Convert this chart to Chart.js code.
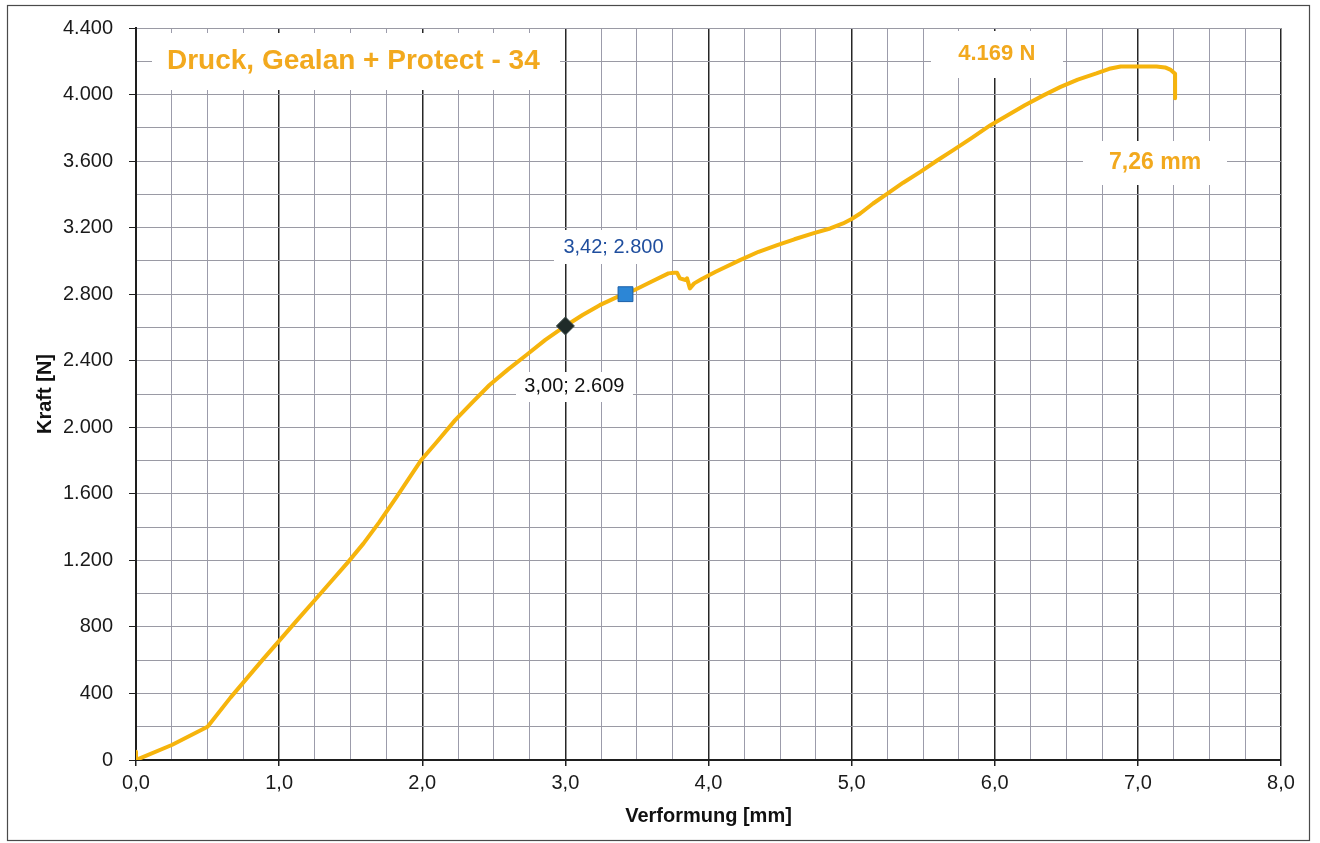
<!DOCTYPE html>
<html>
<head>
<meta charset="utf-8">
<script src="https://cdn.jsdelivr.net/npm/chart.js@4.4.1/dist/chart.umd.min.js"></script>
<style>
  html, body { margin: 0; padding: 0; background: #ffffff; }
  canvas { display: block; }
</style>
</head>
<body>
<canvas id="chart" width="1320" height="843"></canvas>
<script>
// Load–deformation curve of the compression test
const deformationMm = [0, 0, 0.25, 0.50, 0.66, 0.89, 1.00, 1.12, 1.25, 1.36, 1.48, 1.59, 1.70, 1.82, 1.99,
  2.10, 2.23, 2.35, 2.47, 2.60, 2.73, 2.86, 3.00, 3.12, 3.24, 3.36, 3.48, 3.60, 3.72, 3.76,
  3.78, 3.80, 3.84, 3.85, 3.87, 3.90, 3.95, 4.05, 4.22, 4.35, 4.48, 4.60, 4.73, 4.85, 4.94, 5.00,
  5.06, 5.15, 5.25, 5.36, 5.48, 5.60, 5.71, 5.84, 5.97, 6.09, 6.21, 6.34, 6.46, 6.58, 6.71, 6.80,
  6.88, 7.00, 7.13, 7.19, 7.23, 7.26, 7.26];
const forceN = [50, 0, 90, 200, 375, 608, 716, 835, 962, 1070, 1188, 1302, 1430, 1580, 1800,
  1910, 2043, 2150, 2254, 2348, 2436, 2525, 2609, 2675, 2734, 2782, 2824, 2875, 2925, 2929,
  2929, 2895, 2885, 2895, 2835, 2865, 2890, 2935, 3005, 3055, 3095, 3130, 3165, 3195, 3225, 3252,
  3285, 3345, 3405, 3470, 3535, 3605, 3666, 3740, 3816, 3876, 3936, 3995, 4046, 4090, 4127, 4155,
  4169, 4169, 4169, 4163, 4148, 4125, 3977];

// Marked points
const refDeformation = [3.00];
const refForce = [2609];
const checkDeformation = [3.42];
const checkForce = [2800];
const peakForce = 4169;
const maxDeformation = 7.26;

// Axis tick labels
const xTickLabels = ['0,0', '1,0', '2,0', '3,0', '4,0', '5,0', '6,0', '7,0', '8,0'];
const yTickLabels = ['0', '400', '800', '1.200', '1.600', '2.000', '2.400', '2.800', '3.200', '3.600', '4.000', '4.400'];

const chartTitle = 'Druck, Gealan + Protect - 34';
const FONT = '"Liberation Sans", Arial, sans-serif';
const ORANGE_TEXT = '#F2A91E';
const ORANGE_LINE = '#F6B40C';

function deNum(v, d) {
  const s = v.toFixed(d).split('.');
  const i = s[0].replace(/\B(?=(\d{3})+(?!\d))/g, '.');
  return s[1] ? i + ',' + s[1] : i;
}

const curve = deformationMm.map((x, i) => ({ x, y: forceN[i] }));
const refPts = refDeformation.map((x, i) => ({ x, y: refForce[i] }));
const checkPts = checkDeformation.map((x, i) => ({ x, y: checkForce[i] }));

const isInt = v => Math.abs(v - Math.round(v)) < 1e-6;

function labelBox(ctx, text, cx, cy, font, color, w, h) {
  ctx.save();
  ctx.font = font;
  ctx.fillStyle = '#ffffff';
  ctx.fillRect(Math.round(cx - w / 2), Math.round(cy - h / 2), Math.round(w), Math.round(h));
  ctx.fillStyle = color;
  ctx.textAlign = 'center';
  ctx.textBaseline = 'middle';
  ctx.fillText(text, cx, cy);
  ctx.restore();
}

const annotations = {
  id: 'annotations',
  beforeDraw(chart) {
    const ctx = chart.ctx;
    ctx.save();
    ctx.fillStyle = '#ffffff';
    ctx.fillRect(0, 0, chart.width, chart.height);
    ctx.restore();
  },
  beforeDatasetsDraw(chart) {
    const ctx = chart.ctx;
    const xs = chart.scales.x, ys = chart.scales.y;
    const area = chart.chartArea;

    // title box
    ctx.save();
    ctx.font = 'bold 28px ' + FONT;
    ctx.fillStyle = '#ffffff';
    ctx.fillRect(area.left + 16, area.top + 5, 408, 57);
    ctx.fillStyle = ORANGE_TEXT;
    ctx.textAlign = 'left';
    ctx.textBaseline = 'middle';
    ctx.fillText(chartTitle, area.left + 31, area.top + 33);
    ctx.restore();

    // peak force
    labelBox(ctx, deNum(peakForce, 0) + ' N', xs.getPixelForValue(6.0) + 2, ys.getPixelForValue(peakForce) - 12,
      'bold 22px ' + FONT, ORANGE_TEXT, 132, 47);
    // max deformation
    labelBox(ctx, deNum(maxDeformation, 2) + ' mm', xs.getPixelForValue(maxDeformation) - 20, ys.getPixelForValue(3600) + 2,
      'bold 23px ' + FONT, ORANGE_TEXT, 144, 44);
    // marked points
    labelBox(ctx, deNum(checkDeformation[0], 2) + '; ' + deNum(checkForce[0], 0),
      xs.getPixelForValue(checkDeformation[0]) - 12, ys.getPixelForValue(checkForce[0]) - 47,
      '20px ' + FONT, '#1F4E9E', 118, 34);
    labelBox(ctx, deNum(refDeformation[0], 2) + '; ' + deNum(refForce[0], 0),
      xs.getPixelForValue(refDeformation[0]) + 9, ys.getPixelForValue(refForce[0]) + 61,
      '20px ' + FONT, '#111111', 117, 30);
  },
  afterDraw(chart) {
    const ctx = chart.ctx;
    ctx.save();
    ctx.strokeStyle = '#4a4a4a';
    ctx.lineWidth = 1.2;
    ctx.strokeRect(7.5, 5.5, 1302, 835);
    ctx.restore();
  }
};

new Chart(document.getElementById('chart'), {
  type: 'line',
  data: {
    datasets: [
      {
        label: 'ref',
        data: refPts,
        showLine: false,
        pointStyle: 'rectRot',
        pointRadius: 9,
        backgroundColor: '#1f2b29',
        borderColor: '#3a4a48',
        borderWidth: 1,
        order: 1
      },
      {
        label: 'check',
        data: checkPts,
        showLine: false,
        pointStyle: 'rect',
        pointRadius: 10.5,
        backgroundColor: '#2C86D6',
        borderColor: '#1a5fa8',
        borderWidth: 1,
        order: 1
      },
      {
        label: 'Kraft',
        data: curve,
        borderColor: ORANGE_LINE,
        borderWidth: 4,
        pointRadius: 0,
        tension: 0,
        fill: false,
        borderJoinStyle: 'round',
        borderCapStyle: 'round',
        order: 2
      }
    ]
  },
  options: {
    responsive: false,
    animation: false,
    events: [],
    layout: { padding: { left: 0, top: 28, right: 39, bottom: 0 } },
    plugins: { legend: { display: false }, tooltip: { enabled: false }, title: { display: false } },
    scales: {
      x: {
        type: 'linear',
        min: 0,
        max: 8,
        afterFit(s) { s.height = 83; },
        border: { color: '#1e1e1e', width: 2 },
        grid: {
          color: c => (c.tick && isInt(c.tick.value)) ? '#262626' : '#9c9cab',
          lineWidth: c => (c.tick && isInt(c.tick.value)) ? 1.5 : 1,
          tickLength: 6,
          tickColor: c => (c.tick && isInt(c.tick.value)) ? '#1e1e1e' : 'rgba(0,0,0,0)'
        },
        ticks: {
          stepSize: 0.25,
          autoSkip: false,
          maxRotation: 0,
          padding: 5,
          color: '#1a1a1a',
          font: { family: FONT, size: 20 },
          callback: v => isInt(v) ? xTickLabels[Math.round(v)] : ''
        },
        title: {
          display: true,
          text: 'Verformung [mm]',
          color: '#111111',
          font: { family: FONT, size: 20, weight: 'bold' },
          padding: { top: 0, bottom: 15 }
        }
      },
      y: {
        type: 'linear',
        min: 0,
        max: 4400,
        afterFit(s) { s.width = 136; },
        border: { color: '#1e1e1e', width: 2 },
        grid: {
          color: '#9a9aa4',
          lineWidth: 1,
          tickLength: 7,
          tickColor: c => (c.tick && c.tick.value % 400 === 0) ? '#1e1e1e' : 'rgba(0,0,0,0)'
        },
        ticks: {
          stepSize: 200,
          autoSkip: false,
          padding: 16,
          color: '#1a1a1a',
          font: { family: FONT, size: 20 },
          callback: v => v % 400 === 0 ? yTickLabels[v / 400] : ''
        },
        title: {
          display: true,
          text: 'Kraft [N]',
          color: '#111111',
          font: { family: FONT, size: 20, weight: 'bold' },
          padding: { top: 33, bottom: 0 }
        }
      }
    }
  },
  plugins: [annotations]
});
</script>
</body>
</html>
